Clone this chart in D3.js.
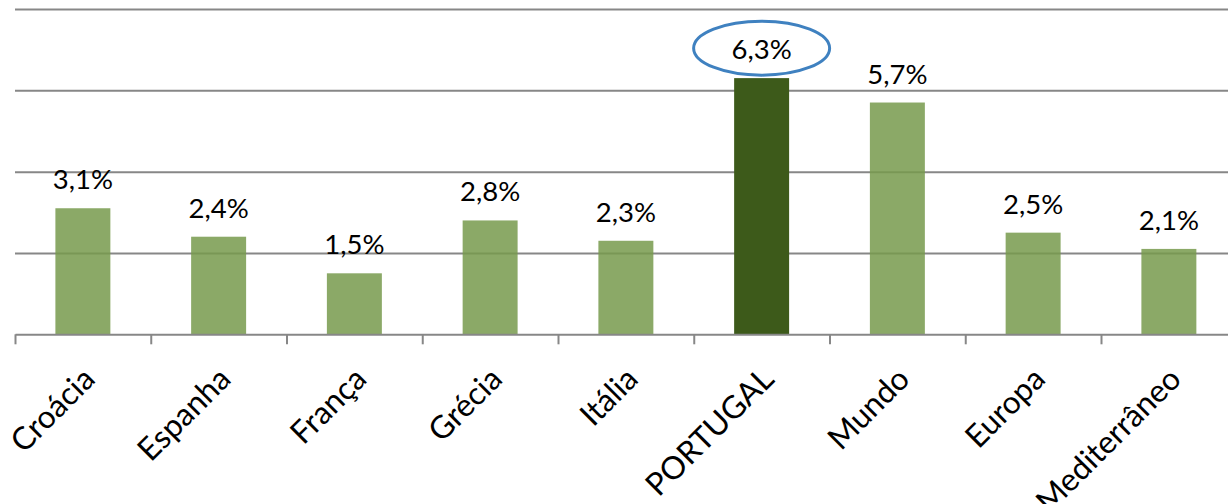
<!DOCTYPE html>
<html>
<head>
<meta charset="utf-8">
<script src="https://cdn.jsdelivr.net/npm/d3@7"></script>
<style>
	body { margin: 0; background: #fff; }
	svg { display: block; font-family: Lato, "Open Sans", sans-serif; }
</style>
</head>
<body>
<div id="svg-container"></div>
<script>

// DATA
const categories = ['Croácia', 'Espanha', 'França', 'Grécia', 'Itália', 'PORTUGAL', 'Mundo', 'Europa', 'Mediterrâneo'];
const values = [3.1, 2.4, 1.5, 2.8, 2.3, 6.3, 5.7, 2.5, 2.1];
const valueLabels = ['3,1%', '2,4%', '1,5%', '2,8%', '2,3%', '6,3%', '5,7%', '2,5%', '2,1%'];
const gridTicks = [2, 4, 6, 8];
const highlight = 'PORTUGAL';


function visualizeData() {
	// chart dimension
	const w = 1228;
	const h = 504;
	const left = 15;
	const step = 135.75;
	const right = left + step * categories.length;
	const top = 9;
	const bottom = 334.3;

	const svg = d3.select('#svg-container').append('svg')
		.attr('width', w)
		.attr('height', h);

	// scales
	const xScale = d3.scaleBand()
		.domain(categories)
		.range([left, right])
		.paddingInner(0.595)
		.paddingOuter(0.2975);
	const xEdge = d3.scaleLinear()
		.domain([0, categories.length])
		.range([left, right]);
	const yScale = d3.scaleLinear()
		.domain([0, 8])
		.range([bottom, top]);

	// gridlines
	const grid = svg.append('g')
		.attr('transform', `translate(${left},0)`)
		.call(d3.axisLeft(yScale).tickValues(gridTicks).tickSize(-(right - left)).tickFormat(''));
	grid.select('.domain').remove();
	grid.selectAll('line').attr('stroke', '#878787').attr('stroke-width', 2);

	// bars
	svg.selectAll('rect.bar')
		.data(categories)
		.enter()
		.append('rect')
		.attr('class', 'bar')
		.attr('x', d => xScale(d))
		.attr('y', (d, i) => yScale(values[i]))
		.attr('width', xScale.bandwidth())
		.attr('height', (d, i) => bottom - yScale(values[i]))
		.attr('fill', d => d === highlight ? '#3d5a1a' : '#779a4c')
		.attr('fill-opacity', d => d === highlight ? 1 : 0.85);

	// x axis with ticks between categories
	const xAxis = svg.append('g')
		.attr('transform', `translate(0,${bottom})`)
		.call(d3.axisBottom(xEdge).tickValues(d3.range(categories.length + 1)).tickSize(10).tickSizeOuter(0).tickFormat(''));
	xAxis.selectAll('line, path').attr('stroke', '#878787').attr('stroke-width', 2);

	// value labels
	svg.selectAll('text.value')
		.data(categories)
		.enter()
		.append('text')
		.attr('class', 'value')
		.attr('x', d => xScale(d) + xScale.bandwidth() / 2)
		.attr('y', (d, i) => yScale(values[i]) - 19)
		.attr('text-anchor', 'middle')
		.attr('font-size', 27.5)
		.attr('fill', '#000')
		.text((d, i) => valueLabels[i]);

	// highlight ellipse
	const hi = categories.indexOf(highlight);
	svg.append('ellipse')
		.attr('cx', xScale(highlight) + xScale.bandwidth() / 2)
		.attr('cy', yScale(values[hi]) - 30)
		.attr('rx', 68)
		.attr('ry', 27)
		.attr('fill', 'none')
		.attr('stroke', '#3f81c0')
		.attr('stroke-width', 3);

	// category labels
	svg.selectAll('text.cat')
		.data(categories)
		.enter()
		.append('text')
		.attr('class', 'cat')
		.attr('transform', d => `translate(${xScale(d) + xScale.bandwidth() / 2 + 14},381) rotate(-45)`)
		.attr('text-anchor', 'end')
		.attr('font-size', 31.5)
		.attr('fill', '#000')
		.text(d => d);
}

document.addEventListener('DOMContentLoaded', () => {
	visualizeData();
});
</script>
</body>
</html>
